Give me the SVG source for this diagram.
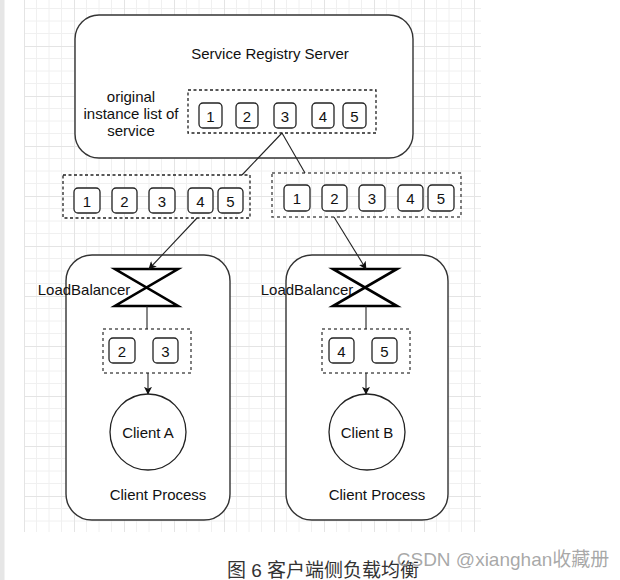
<svg xmlns="http://www.w3.org/2000/svg" width="620" height="580" viewBox="0 0 620 580">
<defs>
<pattern id="grid" x="24" y="-4" width="50" height="50" patternUnits="userSpaceOnUse">
<path d="M12.5 0V50M25 0V50M37.5 0V50M0 12.5H50M0 25H50M0 37.5H50" stroke="#f0f0f0" stroke-width="1" fill="none"/>
<path d="M0.5 0V50M0 0.5H50" stroke="#e4e4e4" stroke-width="1" fill="none"/>
</pattern>
<marker id="arr" viewBox="0 0 10 10" refX="9" refY="5" markerWidth="8" markerHeight="8" markerUnits="userSpaceOnUse" orient="auto">
<path d="M0 0L10 5L0 10L2.5 5Z" fill="#111"/>
</marker>
<style>
.t{font-family:"Liberation Sans",Arial,sans-serif;font-size:15px;fill:#111;text-anchor:middle;dominant-baseline:central}
.big{fill:#fff;stroke:#333;stroke-width:1.4}
.dash{fill:none;stroke:#222;stroke-width:1.3;stroke-dasharray:3 2.5}
.dash2{fill:none;stroke:#555;stroke-width:1.5;stroke-dasharray:3 3}
.item{fill:#fff;stroke:#222;stroke-width:1.3}
.lb{fill:none;stroke:#000;stroke-width:2.6;stroke-linejoin:miter}
.ln{fill:none;stroke:#222;stroke-width:1.1}
</style>
</defs>
<rect x="0" y="0" width="620" height="580" fill="#fff"/>
<rect x="0" y="0" width="4.5" height="580" fill="#e6e6e6"/>
<rect x="24" y="0" width="457" height="532" fill="url(#grid)"/>

<g id="registry">
<rect class="big" x="75" y="15" width="338" height="143" rx="24"/>
<text class="t" x="270" y="53">Service Registry Server</text>
<text class="t" x="131" y="96">original</text>
<text class="t" x="131" y="113">instance list of</text>
<text class="t" x="131" y="130">service</text>
<rect class="dash" x="188" y="90" width="188" height="43"/>
<rect class="item" x="199" y="103" width="23" height="25" rx="4"/><text class="t" x="210.5" y="116">1</text>
<rect class="item" x="236" y="103" width="22" height="25" rx="4"/><text class="t" x="247" y="116">2</text>
<rect class="item" x="274" y="103" width="22" height="25" rx="4"/><text class="t" x="285" y="116">3</text>
<rect class="item" x="312" y="103" width="22" height="25" rx="4"/><text class="t" x="323" y="116">4</text>
<rect class="item" x="343" y="103" width="23" height="25" rx="4"/><text class="t" x="354.5" y="116">5</text>
</g>

<g id="listA">
<rect class="dash" x="63" y="175" width="187" height="43"/>
<rect class="item" x="74" y="188" width="26" height="25" rx="4"/><text class="t" x="87" y="201">1</text>
<rect class="item" x="112" y="188" width="25" height="25" rx="4"/><text class="t" x="124.5" y="201">2</text>
<rect class="item" x="149" y="188" width="26" height="25" rx="4"/><text class="t" x="162" y="201">3</text>
<rect class="item" x="188" y="188" width="25" height="25" rx="4"/><text class="t" x="200.5" y="201">4</text>
<rect class="item" x="218" y="188" width="25" height="25" rx="4"/><text class="t" x="230.5" y="201">5</text>
</g>

<g id="listB">
<rect class="dash2" x="272" y="173" width="189" height="44"/>
<rect class="item" x="284" y="185" width="26" height="26" rx="4"/><text class="t" x="297" y="198">1</text>
<rect class="item" x="322" y="185" width="25" height="26" rx="4"/><text class="t" x="334.5" y="198">2</text>
<rect class="item" x="359" y="185" width="26" height="26" rx="4"/><text class="t" x="372" y="198">3</text>
<rect class="item" x="398" y="185" width="25" height="26" rx="4"/><text class="t" x="410.5" y="198">4</text>
<rect class="item" x="428" y="185" width="26" height="26" rx="4"/><text class="t" x="441" y="198">5</text>
</g>

<g id="processA">
<rect class="big" x="66" y="255" width="164" height="265" rx="26"/>
<text class="t" x="158" y="494">Client Process</text>
</g>
<g id="processB">
<rect class="big" x="286" y="255" width="162" height="265" rx="26"/>
<text class="t" x="377" y="494">Client Process</text>
</g>

<g id="lbA">
<text class="t" x="84" y="289">LoadBalancer</text>
<path class="lb" d="M115 269H178L115 306H178Z"/>
</g>
<g id="lbB">
<text class="t" x="307" y="289">LoadBalancer</text>
<path class="lb" d="M333 269H397L333 306H397Z"/>
</g>

<g id="subA">
<rect class="dash2" x="103" y="329" width="88" height="44"/>
<rect class="item" x="109" y="338" width="26" height="25" rx="4"/><text class="t" x="122" y="351">2</text>
<rect class="item" x="153" y="338" width="25" height="25" rx="4"/><text class="t" x="165.5" y="351">3</text>
</g>
<g id="subB">
<rect class="dash2" x="322" y="329" width="88" height="44"/>
<rect class="item" x="329" y="338" width="25" height="25" rx="4"/><text class="t" x="341.5" y="351">4</text>
<rect class="item" x="372" y="338" width="25" height="25" rx="4"/><text class="t" x="384.5" y="351">5</text>
</g>

<g id="clientA">
<circle cx="148" cy="432" r="38" fill="#fff" stroke="#222" stroke-width="1.3"/>
<text class="t" x="148" y="432">Client A</text>
</g>
<g id="clientB">
<circle cx="367" cy="432" r="38" fill="#fff" stroke="#222" stroke-width="1.3"/>
<text class="t" x="367" y="432">Client B</text>
</g>

<g id="connectors">
<path class="ln" d="M282 133L242 175"/>
<path class="ln" d="M282 133L305 173"/>
<path class="ln" d="M197 218L149 269" marker-end="url(#arr)"/>
<path class="ln" d="M334 217L366 269" marker-end="url(#arr)"/>
<path class="ln" d="M147 306V329"/>
<path class="ln" d="M366 306V329"/>
<path class="ln" d="M148 373V394" marker-end="url(#arr)"/>
<path class="ln" d="M366 373V394" marker-end="url(#arr)"/>
</g>

<text x="323" y="570" font-family="'Liberation Sans','Noto Sans CJK SC',sans-serif" font-size="19" fill="#333" text-anchor="middle" dominant-baseline="central">图 6 客户端侧负载均衡</text>
<text x="503" y="559" font-family="'Liberation Sans','Noto Sans CJK SC',sans-serif" font-size="19" fill="#999" fill-opacity="0.85" text-anchor="middle" dominant-baseline="central">CSDN @xianghan收藏册</text>
</svg>
